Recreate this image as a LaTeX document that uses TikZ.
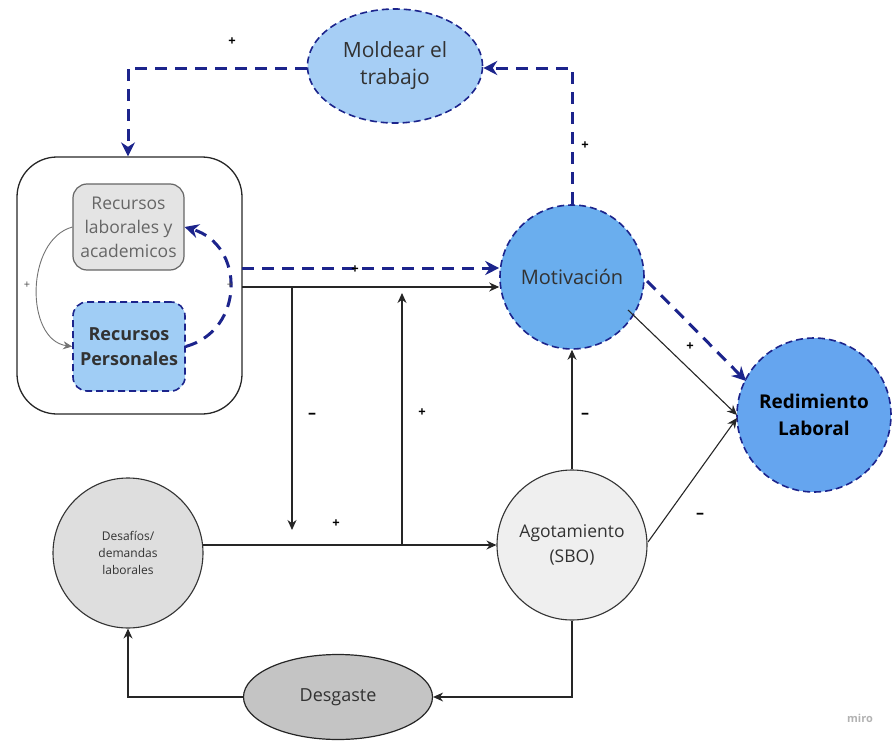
\documentclass[tikz,border=0pt]{standalone}
\usepackage{fontspec}
\setmainfont{Open Sans}
\usetikzlibrary{arrows.meta,shapes.geometric}
\definecolor{navy}{RGB}{28,36,140}
\definecolor{txt}{RGB}{50,50,50}
\definecolor{lblue}{RGB}{166,206,245}
\definecolor{mblue}{RGB}{106,174,238}
\definecolor{pblue}{RGB}{160,205,245}
\definecolor{g1}{RGB}{228,228,228}
\definecolor{g2}{RGB}{222,222,222}
\definecolor{g3}{RGB}{239,239,239}
\definecolor{g4}{RGB}{196,196,196}
\tikzset{
  lbl/.style={font=\fontsize{13}{13}\selectfont\bfseries, text=black, inner sep=0pt},
  bluelink/.style={draw=navy, line width=3pt, dash pattern=on 12pt off 8pt, -{Stealth[length=14pt,width=14pt]}},
  blknode/.style={draw=navy, line width=1.6pt, dash pattern=on 7pt off 4pt},
  blk/.style={draw=black!85, line width=1.1pt, -{Stealth[length=10pt,width=9pt]}},
  circ/.style={circle, draw=black!80, line width=1.1pt, text=txt, align=center, inner sep=0pt},
}
\begin{document}
\begin{tikzpicture}[x=1pt,y=-1pt]
\useasboundingbox (0,0) rectangle (892,744);

% nodes
\node[ellipse, blknode, fill=lblue, minimum width=175pt, minimum height=114pt, text=txt, align=center, inner sep=0pt,
  font=\fontsize{21}{27}\selectfont] (mold) at (395,66) {Moldear el\\trabajo};

\node[draw=black!85, line width=1.3pt, rounded corners=40pt, minimum width=225pt, minimum height=257pt] (grp) at (129.5,285.5) {};

\node[draw=black!60, line width=1.2pt, fill=g1, rounded corners=14pt, minimum width=111pt, minimum height=86pt,
  text=black!60, align=center, inner sep=0pt, font=\fontsize{17.5}{24}\selectfont] (lab) at (128.5,227) {Recursos\\laborales y\\academicos};

\node[blknode, fill=pblue, rounded corners=14pt, minimum width=112pt, minimum height=89pt, inner sep=0pt,
  text=txt, align=center, font=\fontsize{18}{25}\selectfont\bfseries] (pers) at (129,346.5) {Recursos\\Personales};

\node[circle, blknode, fill=mblue, minimum size=144pt, text=txt, inner sep=0pt, font=\fontsize{20}{24}\selectfont] (mot) at (572,277) {Motivación};

\node[circle, blknode, fill=mblue!95!blue, minimum size=154pt, text=black, align=center, inner sep=0pt,
  font=\fontsize{19}{27}\selectfont\bfseries] (red) at (814,415) {Redimiento\\Laboral};

\node[circ, fill=g2, minimum size=150pt, font=\fontsize{12}{17}\selectfont] (des) at (128,553) {Desafíos/\\demandas\\laborales};

\node[circ, fill=g3, minimum size=150pt, font=\fontsize{17.5}{25}\selectfont] (ago) at (572,545) {Agotamiento\\(SBO)};

\node[ellipse, draw=black!85, line width=1.2pt, fill=g4, minimum width=189pt, minimum height=85pt, text=txt, inner sep=0pt,
  font=\fontsize{18}{20}\selectfont] (desg) at (338,697) {Desgaste};

\node[text=black!30, font=\fontsize{11}{11}\selectfont\bfseries] (miro) at (860,718) {miro};

% coordinates
\coordinate (c1) at (128,68);
\coordinate (c2) at (572,68);
\coordinate (a1) at (242,268);
\coordinate (a2) at (242,287);
\coordinate (j1) at (292,287);
\coordinate (j2) at (292,530);
\coordinate (k1) at (402,545);
\coordinate (k2) at (402,293);
\coordinate (m1) at (628,310);
\coordinate (r1) at (737,415);
\coordinate (m2) at (647,281);
\coordinate (r2) at (746,381);
\coordinate (g1c) at (648,542);
\coordinate (r3) at (737,418);
\coordinate (d1) at (572,697);
\coordinate (d2) at (128,697);
\coordinate (e1) at (203,545);

% blue dashed links
\draw[bluelink] (mold.west |- c1) -- (c1) -- (grp.north -| c1);
\draw[bluelink] (mot.north) -- (c2) -- (mold.east |- c2);
\draw[bluelink] (a1) -- (a1 -| mot.west);
\draw[bluelink] (pers.east) .. controls (245,330) and (245,245) .. (lab.east);
\draw[bluelink] (m2) -- (r2);

% black links
\draw[draw=black!55, line width=0.9pt, -{Stealth[length=9pt,width=8pt]}] (lab.west) .. controls (25,240) and (25,340) .. (pers.west);
\draw[blk] (a2) -- (a2 -| mot.west);
\draw[blk] (j1) -- (j2);
\draw[blk] (e1) -- (ago.west);
\draw[blk] (k1) -- (k2);
\draw[blk] (ago.north) -- (mot.south);
\draw[blk] (m1) -- (r1);
\draw[blk] (g1c) -- (r3);
\draw[blk] (ago.south) -- (d1) -- (desg.east);
\draw[blk] (desg.west) -- (d2) -- (des.south);

% labels
\node[lbl] (p1) at (232,42) {+};
\node[lbl] (p2) at (585,146) {+};
\node[lbl, font=\fontsize{11}{11}\selectfont, text=black!70] (p3) at (27,285) {+};
\node[lbl, font=\fontsize{11}{11}\selectfont, text=black!70] (p4) at (230,285) {+};
\node[lbl] (p5) at (355,270) {+};
\node[lbl] (p6) at (336,524) {+};
\node[lbl] (p7) at (422,413) {+};
\node[lbl] (p8) at (690,347) {+};
\node[lbl, font=\fontsize{16}{16}\selectfont\bfseries] (n1) at (312,416) {–};
\node[lbl, font=\fontsize{16}{16}\selectfont\bfseries] (n2) at (585,416) {–};
\node[lbl, font=\fontsize{16}{16}\selectfont\bfseries] (n3) at (700,516) {–};
\end{tikzpicture}
\end{document}
